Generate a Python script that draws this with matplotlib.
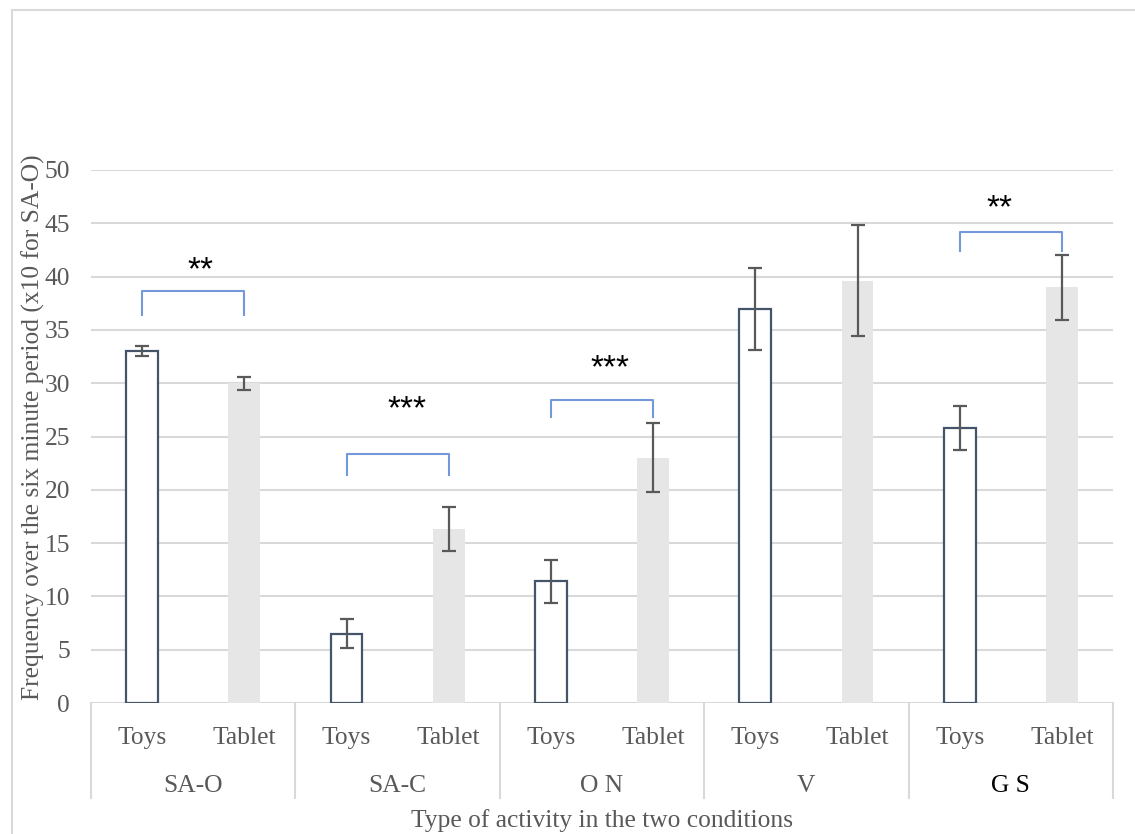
import matplotlib
matplotlib.use("Agg")
import matplotlib.pyplot as plt
import matplotlib.transforms as mtransforms
from matplotlib.lines import Line2D

# ---- data ----
groups = ["SA-O", "SA-C", "O N", "V", "G S"]
conditions = ["Toys", "Tablet"]
toys_vals = [33.0, 6.5, 11.4, 37.0, 25.8]
toys_err = [0.45, 1.35, 2.0, 3.85, 2.1]
tablet_vals = [30.0, 16.3, 23.0, 39.6, 39.0]
tablet_err = [0.6, 2.05, 3.25, 5.2, 3.05]
yticks = [0, 5, 10, 15, 20, 25, 30, 35, 40, 45, 50]

# significance brackets (group index, bracket top, leg bottom, stars, star height, star x offset)
sig_groups = [0, 1, 2, 4]
sig_top = [38.65, 23.35, 28.4, 44.2]
sig_leg = [36.4, 21.4, 26.8, 42.4]
sig_text = ["**", "***", "***", "**"]
sig_text_y = [41.1, 28.1, 31.9, 46.9]
sig_text_dx = [0.07, 0.09, 0.08, -0.11]

ylabel = "Frequency over the six minute period (x10 for SA-O)"
xlabel = "Type of activity in the two conditions"

# ---- style ----
W, H = 1135, 834
fig = plt.figure(figsize=(W / 100, H / 100), dpi=100)
serif = "Liberation Serif"
txt_col = "#595959"
grid_col = "#D9D9D9"
fs = 18.4

ax_l, ax_r, ax_b, ax_t = 91, 1113, 703, 170
ax = fig.add_axes([ax_l / W, (H - ax_b) / H, (ax_r - ax_l) / W, (ax_b - ax_t) / H])

n = len(groups)
toys_x = [2 * i for i in range(n)]
tab_x = [2 * i + 1 for i in range(n)]
bw = 0.31

ax.bar(toys_x, toys_vals, width=bw, color="white", edgecolor="#44546A", linewidth=1.6, zorder=3)
ax.bar(tab_x, tablet_vals, width=bw, color="#E7E6E6", edgecolor="none", zorder=3)
ax.errorbar(toys_x, toys_vals, yerr=toys_err, fmt="none", ecolor="#595959",
            elinewidth=1.6, capsize=5, capthick=1.6, zorder=4)
ax.errorbar(tab_x, tablet_vals, yerr=tablet_err, fmt="none", ecolor="#595959",
            elinewidth=1.6, capsize=5, capthick=1.6, zorder=4)

ax.set_xlim(-0.5, 2 * n - 0.5)
ax.set_ylim(0, 50)
ax.set_yticks(yticks)
ax.set_yticklabels([str(v) for v in yticks], fontfamily=serif, fontsize=fs, color=txt_col)
ax.tick_params(axis="y", length=0, pad=15)
ax.set_xticks([])
for s in ax.spines.values():
    s.set_visible(False)
ax.grid(axis="y", color=grid_col, linewidth=1.5, zorder=0)
ax.set_axisbelow(True)

# brackets
star_off = mtransforms.offset_copy(ax.transData, fig=fig, x=0, y=-6, units="dots")
for g, top, leg, t, ty, dx in zip(sig_groups, sig_top, sig_leg, sig_text, sig_text_y, sig_text_dx):
    x0, x1 = 2 * g, 2 * g + 1
    ax.plot([x0, x0, x1, x1], [leg, top, top, leg], color="#7399DA", linewidth=1.5,
            zorder=5, clip_on=False)
    ax.text((x0 + x1) / 2 + dx, ty, t, ha="center", va="center", fontsize=24,
            fontfamily="Liberation Sans", color="black", zorder=6, transform=star_off)

# category axis below
trans = mtransforms.blended_transform_factory(ax.transData, ax.transAxes)
axh = ax_b - ax_t
sep_bottom = -(798 - ax_b) / axh
for k in range(n + 1):
    xs = 2 * k - 0.5
    ax.add_line(Line2D([xs, xs], [0, sep_bottom], transform=trans, color=grid_col,
                       linewidth=1.5, clip_on=False))
for x, lab in zip(toys_x + tab_x, [conditions[0]] * n + [conditions[1]] * n):
    ax.text(x, -(738 - ax_b) / axh, lab, transform=trans, ha="center", va="center",
            fontfamily=serif, fontsize=fs, color=txt_col)
for i, g in enumerate(groups):
    ax.text(2 * i + 0.5, -(786 - ax_b) / axh, g, transform=trans, ha="center", va="center",
            fontfamily=serif, fontsize=fs, color="black" if g == "G S" else txt_col)

fig.text((ax_l + ax_r) / 2 / W, (H - 821) / H, xlabel, ha="center", va="center",
         fontfamily=serif, fontsize=fs, color=txt_col)
fig.text(33 / W, (H - 427) / H, ylabel, ha="center", va="center", rotation=90,
         fontfamily=serif, fontsize=fs, color=txt_col)

# chart border
fig.add_artist(Line2D([12 / W, 12 / W], [0, (H - 10) / H], transform=fig.transFigure,
                      color=grid_col, linewidth=1.5))
fig.add_artist(Line2D([12 / W, 1], [(H - 10) / H, (H - 10) / H], transform=fig.transFigure,
                      color=grid_col, linewidth=1.5))

fig.savefig("out.png", dpi=100)
